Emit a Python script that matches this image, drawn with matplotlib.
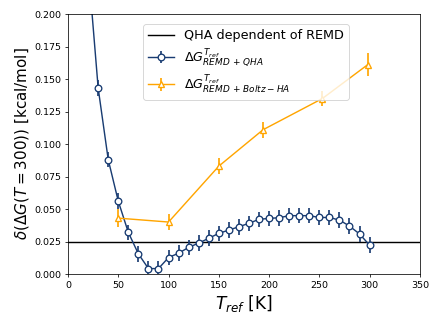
import matplotlib
matplotlib.use('Agg')
import matplotlib.pyplot as plt
import numpy as np

#%% data
T_qha = [20, 30, 40, 50, 60, 70, 80, 90, 100, 110, 120, 130, 140, 150, 160, 170, 180,
         190, 200, 210, 220, 230, 240, 250, 260, 270, 280, 290, 300]
dG_qha = [0.237, 0.143, 0.088, 0.056, 0.032, 0.0155, 0.0042, 0.0042, 0.0127, 0.016, 0.0205,
          0.0238, 0.0275, 0.0313, 0.0338, 0.0364, 0.039, 0.0421, 0.0428, 0.0433, 0.0449,
          0.0449, 0.0449, 0.0435, 0.0435, 0.0415, 0.0369, 0.0308, 0.0222]
err_qha = [0.006] * len(T_qha)

T_boltz = [50, 100, 150, 194, 253, 298]
dG_boltz = [0.043, 0.040, 0.083, 0.111, 0.135, 0.161]
err_boltz = [0.007, 0.006, 0.006, 0.006, 0.006, 0.009]

qha_ref = 0.0245

#%% fig
plt.figure(figsize=(6.4, 4.8), dpi=68.125)
ax = plt.gca()
plt.subplots_adjust(left=0.156, right=0.963, top=0.957, bottom=0.162)

plt.axhline(qha_ref, c='k', lw=1.5, label='QHA dependent of REMD')
plt.errorbar(T_qha, dG_qha, yerr=err_qha, c='#193c72', lw=1.5, elinewidth=1.8,
             marker='o', markersize=7, mfc='white', mec='#193c72', mew=1.4,
             label=r'$\Delta G^{T_{ref}}_{REMD\,+\,QHA}$')
plt.errorbar(T_boltz, dG_boltz, yerr=err_boltz, c='orange', lw=1.5, elinewidth=1.8,
             marker='^', markersize=7, mfc='white', mec='orange', mew=1.4,
             label=r'$\Delta G^{T_{ref}}_{REMD\,+\,Boltz-HA}$')

plt.xlim([0, 350])
plt.ylim([0, 0.2])
plt.ylabel(r'$\delta(\Delta G(T=300))$ [kcal/mol]', fontsize=16)
plt.xlabel(r'$T_{ref}$ [K]', fontsize=18)
plt.legend(loc='upper left', bbox_to_anchor=(0.195, 0.985), fontsize=13.5, labelspacing=0.35)

plt.savefig('out.png', dpi=68.125, transparent=False)
